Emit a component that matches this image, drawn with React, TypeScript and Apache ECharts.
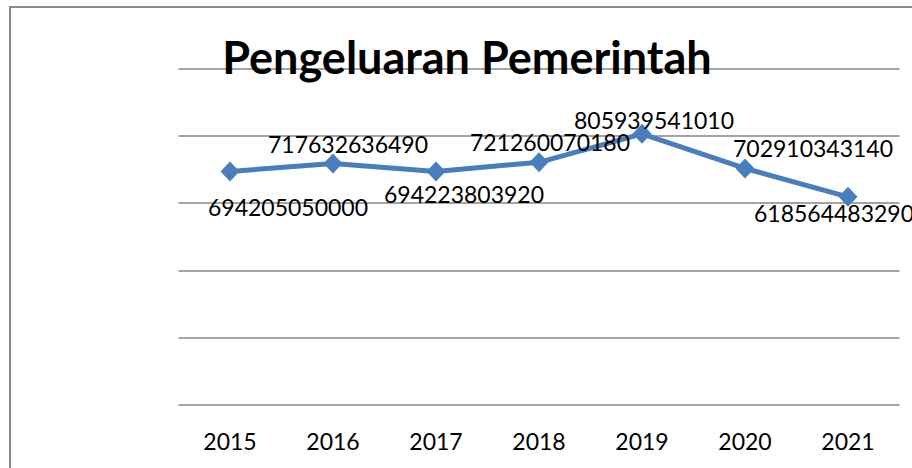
import React, { useEffect, useRef } from "react";
import * as echarts from "echarts";

const categories = ["2015", "2016", "2017", "2018", "2019", "2020", "2021"];
const values = [694205050000, 717632636490, 694223803920, 721260070180, 805939541010, 702910343140, 618564483290];
const titleText = "Pengeluaran Pemerintah";

// label placement (layout only)
const labelOffsets: [number, number][] = [
  [58, 36],
  [15, -20],
  [28, 23],
  [11, -20],
  [12, -14],
  [68, -20],
  [-14, 16],
];

const FONT = "Lato";

export default function App() {
  const ref = useRef<HTMLDivElement>(null);
  useEffect(() => {
    if (!ref.current) return;
    const chart = echarts.init(ref.current, null, { renderer: "svg" });
    chart.setOption({
      animation: false,
      backgroundColor: "#ffffff",
      grid: { left: 178.5, right: 12.5, top: 68.5, bottom: 63, containLabel: false },
      xAxis: {
        type: "category",
        data: categories,
        boundaryGap: true,
        axisLine: { show: false },
        axisTick: { show: false },
        axisLabel: { color: "#000", fontFamily: FONT, fontSize: 23, margin: 24 },
      },
      yAxis: {
        type: "value",
        min: 0,
        max: 1000000000000,
        interval: 200000000000,
        axisLine: { show: false },
        axisTick: { show: false },
        axisLabel: { show: false },
        splitLine: { lineStyle: { color: "#868686", width: 1.5 } },
      },
      graphic: [
        {
          type: "rect",
          shape: { x: 10, y: 7, width: 1000, height: 1000 },
          style: { fill: "none", stroke: "#8a8a8a", lineWidth: 2 },
          z: 100,
        },
        {
          type: "text",
          x: 467,
          y: 57,
          style: {
            text: titleText,
            fontFamily: FONT,
            fontWeight: "bold",
            fontSize: 45,
            fill: "#000",
            textAlign: "center",
            textVerticalAlign: "middle",
          },
          z: 50,
        },
      ],
      series: [
        {
          type: "line",
          data: values.map((v, i) => ({
            value: v,
            label: { offset: labelOffsets[i] },
          })),
          lineStyle: { color: "#4a7ebb", width: 5 },
          itemStyle: { color: "#4a7ebb" },
          symbol: "diamond",
          symbolSize: [19, 20],
          label: {
            show: true,
            position: "inside",
            color: "#000",
            fontFamily: FONT,
            fontSize: 23,
            align: "center",
            verticalAlign: "middle",
            formatter: (p: any) => String(p.value),
          },
        },
      ],
    });
    return () => chart.dispose();
  }, []);
  return (
    <div
      ref={ref}
      style={{ position: "fixed", left: 0, top: 0, width: 912, height: 468, background: "#fff" }}
    />
  );
}
